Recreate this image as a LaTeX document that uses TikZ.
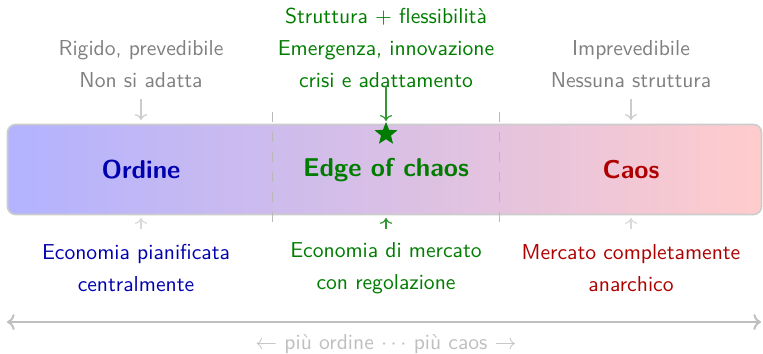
\documentclass[tikz,border=0pt]{standalone}
\usetikzlibrary{shapes.geometric,arrows.meta}
\definecolor{cblue}{RGB}{0,0,175}
\definecolor{cgreen}{RGB}{0,125,0}
\definecolor{cred}{RGB}{175,0,0}
\begin{document}
\begin{tikzpicture}[x=0.5pt,y=-0.5pt,
  every node/.style={font=\sffamily\fontsize{10.8}{16}\selectfont, align=center, inner sep=1pt},
  lbl/.style={font=\sffamily\bfseries\fontsize{12.9}{15}\selectfont},
  toptxt/.style={text=gray},
  garrow/.style={->, gray!40, line width=0.6pt},
  sepline/.style={gray!55, line width=0.5pt, dash pattern=on 5pt off 5pt}
]
\useasboundingbox (0,0) rectangle (763,353);
% bar
\node[draw=gray!40, line width=0.8pt, rounded corners=4pt, left color=blue!30, right color=red!20,
  minimum width=377pt, minimum height=45pt, inner sep=0pt] (bar) at (384.5,169.5) {};
% dashed separators
\coordinate (d1t) at (272,112); \coordinate (d1b) at (272,230);
\coordinate (d2t) at (499,112); \coordinate (d2b) at (499,230);
\draw[sepline] (d1t) -- (d1b);
\draw[sepline] (d2t) -- (d2b);
% labels in bar
\node[lbl, text=cblue] (ord) at (141,170) {Ordine};
\node[lbl, text=cgreen] (edge) at (386,170) {Edge of chaos};
\node[lbl, text=cred] (caos) at (631,170) {Caos};
% top texts
\node[toptxt] (rig) at (141,64) {Rigido, prevedibile\\Non si adatta};
\node[text=cgreen] (str) at (386,48) {Struttura + flessibilità\\Emergenza, innovazione\\crisi e adattamento};
\node[toptxt] (imp) at (631,64) {Imprevedibile\\Nessuna struttura};
% star
\node[star, star points=5, star point ratio=2.3, fill=cgreen, minimum size=12pt, inner sep=0pt] (st) at (386,134) {};
% top arrows
\coordinate (ra) at (141,99); \coordinate (rb) at (141,120);
\coordinate (ia) at (631,99); \coordinate (ib) at (631,120);
\coordinate (sa) at (386,86);
\draw[garrow] (ra) -- (rb);
\draw[garrow] (ia) -- (ib);
\draw[->, cgreen!80, line width=0.6pt] (sa) -- (st.north);
% bottom texts
\node[text=cblue] (eco1) at (136,268) {Economia pianificata\\centralmente};
\node[text=cgreen] (eco2) at (386,268) {Economia di mercato\\con regolazione};
\node[text=cred] (eco3) at (631,268) {Mercato completamente\\anarchico};
% bottom arrows
\coordinate (b1a) at (141,229); \coordinate (b1b) at (141,218);
\coordinate (b2a) at (386,229); \coordinate (b2b) at (386,218);
\coordinate (b3a) at (631,229); \coordinate (b3b) at (631,218);
\draw[->, gray!30, line width=0.6pt] (b1a) -- (b1b);
\draw[->, cgreen!80, line width=0.6pt] (b2a) -- (b2b);
\draw[->, gray!30, line width=0.6pt] (b3a) -- (b3b);
% axis
\coordinate (al) at (7,322); \coordinate (ar) at (761,322);
\draw[<->, gray!50, line width=1pt] (al) -- (ar);
\node[text=gray!50] (cap) at (386,344) {$\leftarrow$ più ordine $\cdots$ più caos $\rightarrow$};
\end{tikzpicture}
\end{document}
